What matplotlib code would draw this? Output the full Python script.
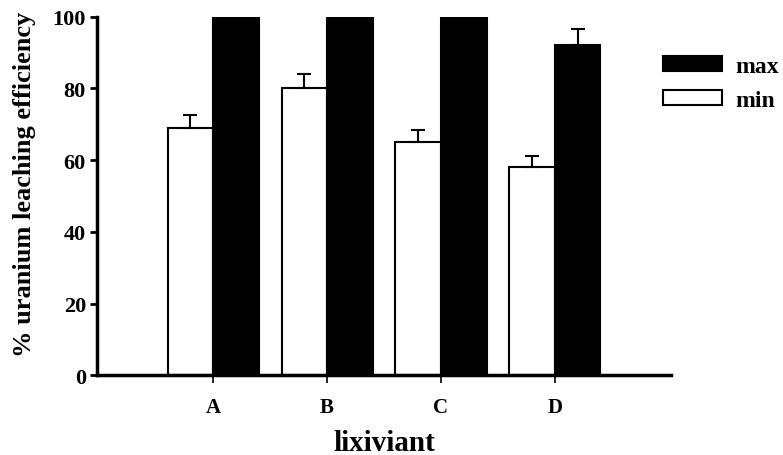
import matplotlib
matplotlib.use('Agg')
import matplotlib.pyplot as plt
import numpy as np

plt.rcParams['font.family'] = 'Liberation Serif'
plt.rcParams['font.weight'] = 'bold'

categories = ['A', 'B', 'C', 'D']
max_vals = [100, 100, 100, 92]
max_err = [0, 0, 0, 4.5]
min_vals = [69, 80, 65, 58]
min_err = [3.5, 4, 3.3, 3.1]

fig = plt.figure(figsize=(7.83, 4.56), dpi=100)
ax = fig.add_axes([0.124, 0.175, 0.733, 0.786])

x = np.arange(1, len(categories) + 1)
w = 0.4
# only the upper half of the error bars is drawn in the original
ax.bar(x - w, min_vals, w, align='edge', color='white', edgecolor='black', linewidth=1.5,
       yerr=[np.zeros(len(min_err)), min_err], capsize=5,
       error_kw=dict(elinewidth=1.5, capthick=1.5, ecolor='black'), label='min', zorder=2)
ax.bar(x, max_vals, w, align='edge', color='black', edgecolor='black', linewidth=1.5,
       yerr=[np.zeros(len(max_err)), max_err], capsize=5,
       error_kw=dict(elinewidth=1.5, capthick=1.5, ecolor='black'), label='max', zorder=2)

ax.set_xlim(-0.02, 5.02)
ax.set_ylim(0, 100)
ax.set_xticks(x)
ax.set_xticklabels(categories, fontsize=15, fontweight='bold')
ax.set_yticks(np.arange(0, 101, 20))
ax.tick_params(axis='y', labelsize=16, width=2, length=5, pad=3)
ax.tick_params(axis='x', width=1.2, length=6, pad=10)
for lab in ax.get_yticklabels():
    lab.set_fontweight('bold')

for s in ['top', 'right']:
    ax.spines[s].set_visible(False)
for s in ['left', 'bottom']:
    ax.spines[s].set_linewidth(2.5)

ax.set_xlabel('lixiviant', fontsize=21, fontweight='bold', labelpad=8)
ax.set_ylabel('% uranium leaching efficiency', fontsize=19, fontweight='bold')
ax.yaxis.set_label_coords(-0.107, 0.536)

handles, labels = ax.get_legend_handles_labels()
leg = fig.legend(handles[::-1], labels[::-1], loc='upper left', bbox_to_anchor=(663 / 783, 0.875),
                 frameon=False, fontsize=17, handlelength=2.5, handleheight=0.6,
                 handletextpad=0.55, labelspacing=0.54, borderpad=0, borderaxespad=0)

fig.savefig('out.png', dpi=100)
